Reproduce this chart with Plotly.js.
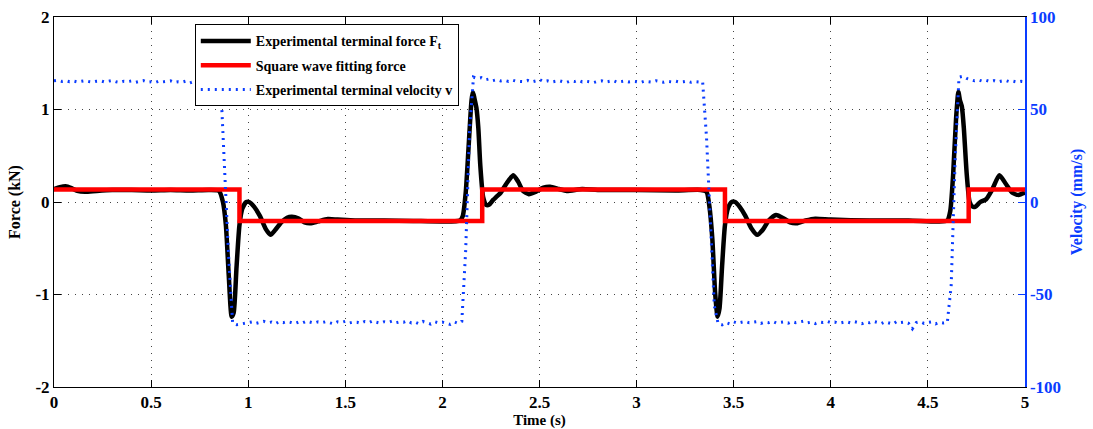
<!DOCTYPE html>
<html>
<head>
<meta charset="utf-8">
<script src="https://cdn.plot.ly/plotly-3.0.1.min.js"></script>
<style>html,body{margin:0;padding:0;background:#fff;}#chart{width:1093px;height:429px;}</style>
</head>
<body>
<div id="chart"></div>
<script>
// ---- Data ----
const forceTime = [0,0.03,0.06,0.09,0.12,0.16,0.22,0.3,0.4,0.5,0.6,0.7,0.8,0.85,0.87,0.885,0.9,0.915,0.925,0.94,0.955,0.97,0.99,1.005,1.03,1.06,1.09,1.115,1.14,1.17,1.2,1.225,1.26,1.29,1.32,1.36,1.41,1.46,1.55,1.7,1.85,2.0,2.09,2.105,2.12,2.135,2.15,2.157,2.165,2.175,2.185,2.195,2.21,2.225,2.24,2.26,2.28,2.3,2.33,2.365,2.39,2.415,2.445,2.48,2.52,2.555,2.6,2.64,2.72,2.8,3.0,3.2,3.33,3.36,3.375,3.39,3.405,3.417,3.427,3.44,3.455,3.47,3.49,3.507,3.53,3.56,3.59,3.622,3.65,3.68,3.718,3.76,3.79,3.824,3.87,3.92,4.0,4.2,4.4,4.55,4.6,4.615,4.63,4.645,4.657,4.665,4.675,4.685,4.7,4.715,4.73,4.745,4.77,4.8,4.83,4.868,4.9,4.935,4.966,4.985,5.0];
const forceKN = [0.14,0.16,0.17,0.15,0.12,0.11,0.12,0.13,0.13,0.125,0.13,0.125,0.13,0.12,0.0,-0.25,-0.8,-1.24,-1.2,-0.7,-0.25,-0.07,0.0,0.0,-0.05,-0.15,-0.29,-0.355,-0.3,-0.22,-0.17,-0.16,-0.18,-0.22,-0.23,-0.21,-0.185,-0.19,-0.2,-0.2,-0.205,-0.21,-0.2,-0.15,0.1,0.6,1.1,1.19,1.12,1.02,0.8,0.4,0.05,-0.03,-0.03,0.02,0.06,0.1,0.2,0.29,0.22,0.12,0.085,0.11,0.155,0.165,0.14,0.12,0.14,0.13,0.13,0.125,0.13,0.11,-0.05,-0.4,-1.0,-1.24,-1.15,-0.7,-0.25,-0.07,0.0,0.0,-0.05,-0.15,-0.28,-0.355,-0.3,-0.2,-0.14,-0.18,-0.22,-0.23,-0.2,-0.18,-0.19,-0.2,-0.2,-0.21,-0.2,-0.1,0.3,0.9,1.19,1.1,1.03,0.8,0.3,0.0,-0.05,-0.05,0.0,0.03,0.13,0.29,0.2,0.1,0.075,0.09,0.1];

const squareTime = [0,0.955,2.205,3.455,4.71,5.0];
const squareKN = [0.135,-0.205,0.135,-0.205,0.135,0.135];

const velocityStep = 0.02; // sampling interval of the measured velocity (s)
const velocityMMs = [
 65.5,65.8,65.2,65.6,65.0,65.4,64.9,65.3,65.6,65.1,
 64.8,65.3,65.5,64.9,65.2,65.7,65.0,64.6,65.3,65.1,
 65.4,64.7,65.2,65.6,64.8,65.0,64.5,65.3,64.9,65.2,
 65.5,64.6,65.0,64.8,65.4,64.4,65.1,64.7,65.0,64.8,
 65.0,64.9,64.6,60.0,14.0,-31.0,-65.5,-66.3,-66.0,-65.6,
 -65.4,-64.8,-65.6,-65.0,-64.5,-65.3,-64.9,-65.8,-64.7,-65.2,
 -64.6,-65.1,-65.7,-64.9,-65.3,-64.4,-65.0,-65.5,-64.8,-65.2,
 -64.7,-65.3,-65.9,-64.8,-65.1,-64.5,-65.4,-64.9,-65.0,-65.6,
 -64.6,-65.2,-64.3,-65.0,-65.5,-64.7,-65.1,-64.4,-65.3,-64.8,
 -65.0,-64.2,-65.4,-64.9,-65.8,-64.6,-65.1,-66.0,-64.7,-65.3,
 -64.9,-65.5,-66.2,-64.8,-65.6,-64.5,-26.0,39.0,67.5,66.8,
 67.2,66.0,66.5,65.6,66.1,65.4,65.8,65.2,65.9,65.3,
 65.3,65.0,65.7,64.9,65.4,66.2,65.1,65.5,64.8,65.3,
 65.6,65.0,64.7,65.4,65.1,65.8,64.9,65.3,65.0,64.6,
 65.2,65.5,64.8,65.0,65.6,64.7,65.1,65.4,64.9,65.2,
 65.0,64.6,65.3,65.1,64.8,65.5,65.0,64.7,65.2,64.9,
 65.3,64.8,65.0,65.4,64.7,65.1,64.9,65.0,35.0,-11.0,
 -56.0,-65.8,-66.4,-65.2,-65.9,-64.8,-65.5,-65.0,-64.6,-65.3,
 -65.1,-64.7,-65.6,-64.9,-65.2,-64.5,-65.4,-65.0,-64.8,-65.5,
 -64.6,-65.2,-65.0,-64.4,-65.3,-64.9,-65.7,-64.8,-65.1,-64.5,
 -65.2,-64.9,-65.6,-65.0,-64.7,-65.3,-64.6,-65.1,-65.8,-64.9,
 -65.3,-64.5,-65.0,-65.7,-64.8,-65.4,-66.0,-64.6,-65.2,-64.9,
 -65.5,-68.5,-65.2,-64.7,-65.6,-65.1,-64.8,-65.9,-65.0,-65.4,
 -65.2,-45.0,22.0,67.5,68.0,66.8,66.2,65.5,66.0,65.3,
 65.8,65.1,65.6,64.9,65.4,65.7,65.0,65.3,64.8,65.2,
 65.0
];
const velocityTime = velocityMMs.map((_, i) => +(i * velocityStep).toFixed(3));

const xTicks = [0,0.5,1,1.5,2,2.5,3,3.5,4,4.5,5];
const xTickText = ['0','0.5','1','1.5','2','2.5','3','3.5','4','4.5','5'];
const yTicks = [-2,-1,0,1,2];
const yTickText = ['-2','-1','0','1','2'];
const y2Ticks = [-100,-50,0,50,100];
const y2TickText = ['-100','-50','0','50','100'];

const seriesNames = ['Experimental terminal force F<sub>t</sub>','Square wave fitting force','Experimental terminal velocity v'];

// ---- Chart ----
const BLUE = '#0a3cff';
const FONT = 'Liberation Serif, Times New Roman, serif';

const traces = [
  {x: forceTime, y: forceKN, name: seriesNames[0], legendgroup: 'a', type: 'scatter', mode: 'lines',
   line: {color: '#000', width: 4.5, shape: 'spline', smoothing: 0.6}, yaxis: 'y'},
  {x: squareTime, y: squareKN, name: seriesNames[1], legendgroup: 'b', type: 'scatter', mode: 'lines',
   line: {color: '#ff0000', width: 4.5, shape: 'hv'}, yaxis: 'y'},
  {x: velocityTime, y: velocityMMs, name: seriesNames[2], legendgroup: 'c', type: 'scatter', mode: 'lines',
   line: {color: BLUE, width: 3, dash: '2px,5px'}, yaxis: 'y2'}
];

const layout = {
  width: 1093, height: 429,
  margin: {l: 54, r: 68, t: 17, b: 42},
  paper_bgcolor: '#fff', plot_bgcolor: '#fff',
  font: {family: FONT, size: 15, color: '#000', weight: 700},
  showlegend: true,
  legend: {x: 0.145, y: 0.98, xanchor: 'left', yanchor: 'top',
    bgcolor: '#fff', bordercolor: '#000', borderwidth: 1,
    font: {family: FONT, size: 14, color: '#000', weight: 700},
    tracegroupgap: 3, itemwidth: 50},
  xaxis: {range: [0, 5], tickvals: xTicks, ticktext: xTickText,
    ticks: 'inside', ticklen: 7, tickcolor: '#000', showline: true, linecolor: '#000', linewidth: 1,
    mirror: 'ticks', showgrid: true, gridcolor: '#444', griddash: '1px,6px', gridwidth: 1,
    zeroline: false, tickfont: {family: FONT, size: 17, weight: 700},
    title: {text: 'Time (s)', font: {family: FONT, size: 15, weight: 700}, standoff: 0}},
  yaxis: {range: [-2, 2], tickvals: yTicks, ticktext: yTickText,
    ticks: 'inside', ticklen: 7, tickcolor: '#000', showline: true, linecolor: '#000', linewidth: 1,
    mirror: false, showgrid: true, gridcolor: '#444', griddash: '1px,6px', gridwidth: 1,
    zeroline: false, tickfont: {family: FONT, size: 17, weight: 700},
    title: {text: 'Force (kN)', font: {family: FONT, size: 16, weight: 700}, standoff: 10}},
  yaxis2: {range: [-100, 100], tickvals: y2Ticks, ticktext: y2TickText, overlaying: 'y', side: 'right',
    ticks: 'inside', ticklen: 7, tickcolor: BLUE, showline: true, linecolor: BLUE, linewidth: 1.5,
    showgrid: false, zeroline: false, tickfont: {family: FONT, size: 17, weight: 700, color: BLUE},
    title: {text: 'Velocity (mm/s)', font: {family: FONT, size: 16, weight: 700, color: BLUE}, standoff: 10}}
};

Plotly.newPlot('chart', traces, layout, {displayModeBar: false, staticPlot: true});
</script>
</body>
</html>
